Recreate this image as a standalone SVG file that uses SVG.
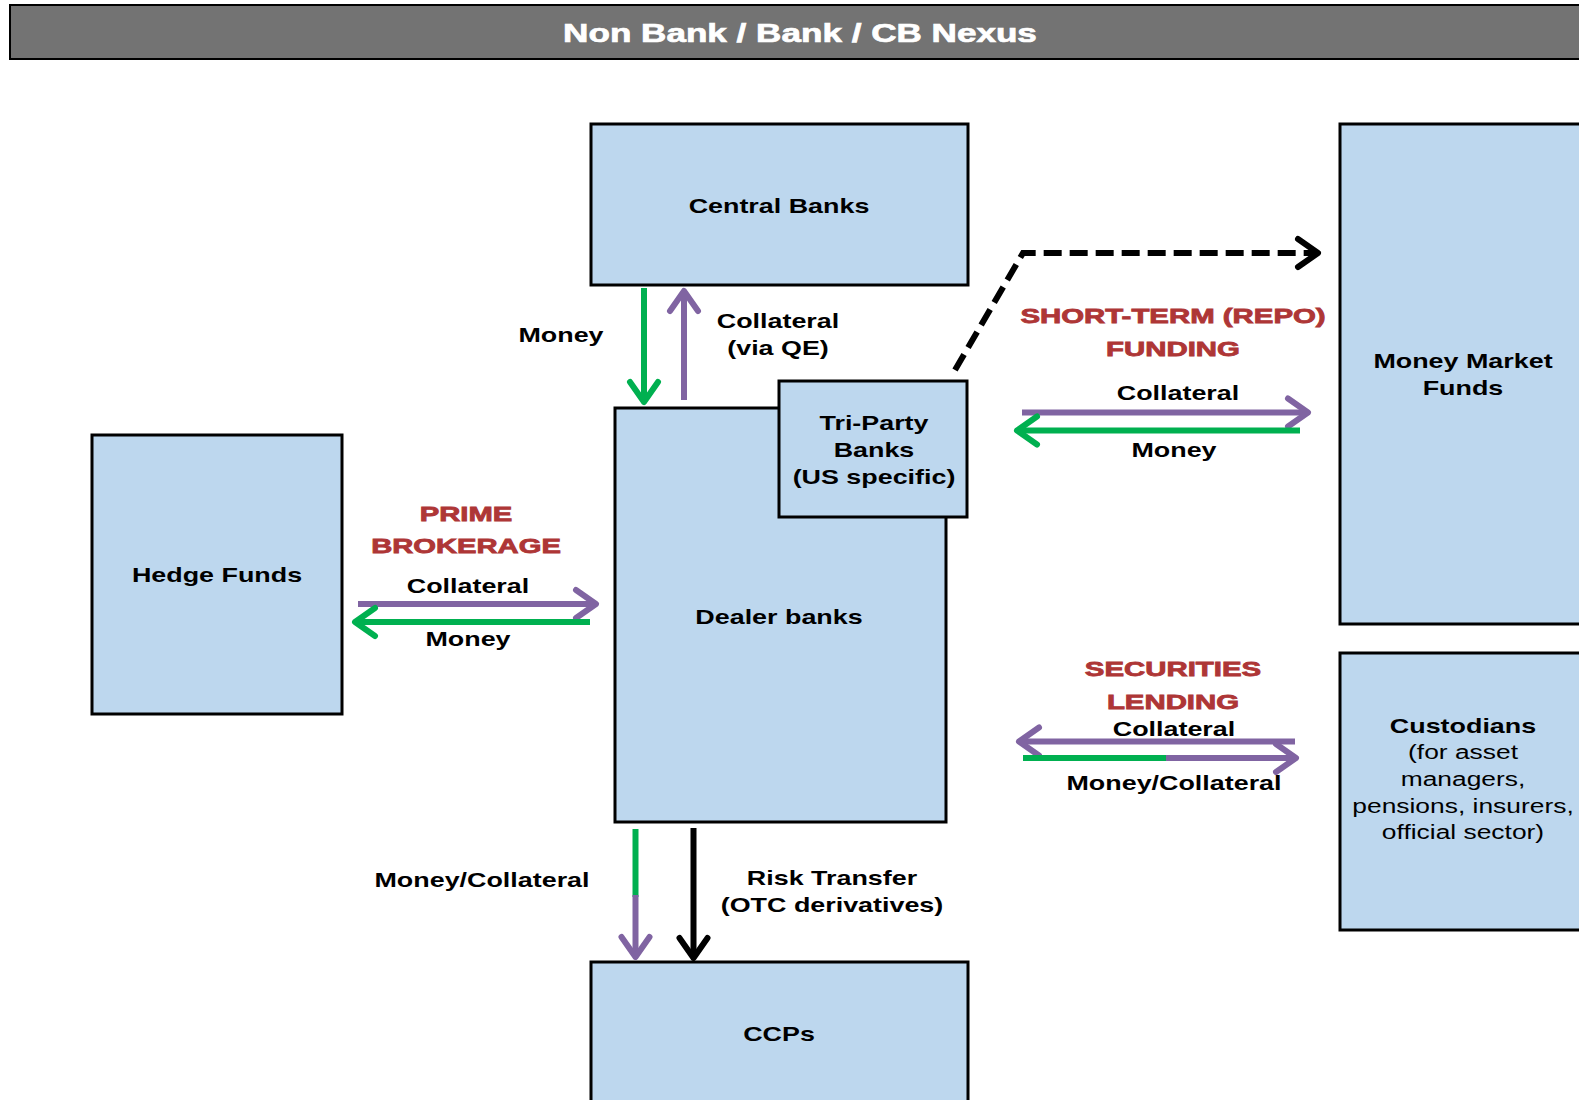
<svg xmlns="http://www.w3.org/2000/svg" width="1579" height="1100" viewBox="0 0 1579 1100">
<style>
.box{fill:#BDD7EE;stroke:#000;stroke-width:3}
.t{font-family:"Liberation Sans",Arial,sans-serif;font-weight:bold;font-size:21px;fill:#000;text-anchor:middle}
.r{font-family:"Liberation Sans",Arial,sans-serif;font-weight:bold;font-size:20px;fill:#AE3636;stroke:#AE3636;stroke-width:0.8;text-anchor:middle}
.n{font-family:"Liberation Sans",Arial,sans-serif;font-weight:normal;font-size:20px;fill:#000;text-anchor:middle}
.title{font-family:"Liberation Sans",Arial,sans-serif;font-weight:bold;font-size:26px;fill:#fff;stroke:#fff;stroke-width:0.7;text-anchor:middle}
.p{fill:none;stroke:#8064A2;stroke-width:6}
.g{fill:none;stroke:#00B050;stroke-width:6}
.k{fill:none;stroke:#000;stroke-width:6}
</style>
<defs>
<marker id="mp" markerUnits="userSpaceOnUse" orient="auto" refX="0" refY="0" markerWidth="40" markerHeight="40" viewBox="-30 -20 40 40" overflow="visible"><path d="M-20,-14 L0,0 L-20,14" fill="none" stroke="#8064A2" stroke-width="6" stroke-linecap="round" stroke-linejoin="round"/></marker>
<marker id="mg" markerUnits="userSpaceOnUse" orient="auto" refX="0" refY="0" markerWidth="40" markerHeight="40" viewBox="-30 -20 40 40" overflow="visible"><path d="M-20,-14 L0,0 L-20,14" fill="none" stroke="#00B050" stroke-width="6" stroke-linecap="round" stroke-linejoin="round"/></marker>
<marker id="mk" markerUnits="userSpaceOnUse" orient="auto" refX="0" refY="0" markerWidth="40" markerHeight="40" viewBox="-30 -20 40 40" overflow="visible"><path d="M-20,-14 L0,0 L-20,14" fill="none" stroke="#000" stroke-width="6" stroke-linecap="round" stroke-linejoin="round"/></marker>
</defs>
<rect width="1579" height="1100" fill="#fff"/>
<g id="title">
<rect x="10" y="5" width="1575" height="54" fill="#737373" stroke="#000" stroke-width="2"/>
<text class="title" transform="translate(800,41.5) scale(1.35,1)">Non Bank / Bank / CB Nexus</text>
</g>
<g id="central-banks">
<rect class="box" x="591" y="124" width="377" height="161"/>
<text class="t" transform="translate(779,213) scale(1.28,1)">Central Banks</text>
</g>
<g id="dealer-banks">
<rect class="box" x="615" y="408" width="331" height="414"/>
<text class="t" transform="translate(779,624) scale(1.28,1)">Dealer banks</text>
</g>
<g id="tri-party-banks">
<rect class="box" x="779" y="381" width="188" height="136"/>
<text class="t" transform="translate(874,430) scale(1.28,1)">Tri-Party</text>
<text class="t" transform="translate(874,457) scale(1.28,1)">Banks</text>
<text class="t" transform="translate(874,484) scale(1.28,1)">(US specific)</text>
</g>
<g id="hedge-funds">
<rect class="box" x="92" y="435" width="250" height="279"/>
<text class="t" transform="translate(217,582) scale(1.28,1)">Hedge Funds</text>
</g>
<g id="money-market-funds">
<rect class="box" x="1340" y="124" width="300" height="500"/>
<text class="t" transform="translate(1463,368) scale(1.28,1)">Money Market</text>
<text class="t" transform="translate(1463,395) scale(1.28,1)">Funds</text>
</g>
<g id="custodians">
<rect class="box" x="1340" y="653" width="300" height="277"/>
<text class="t" transform="translate(1463,732.5) scale(1.28,1)">Custodians</text>
<text class="n" transform="translate(1463,758.5) scale(1.32,1)">(for asset</text>
<text class="n" transform="translate(1463,786) scale(1.32,1)">managers,</text>
<text class="n" transform="translate(1463,813) scale(1.32,1)">pensions, insurers,</text>
<text class="n" transform="translate(1463,839) scale(1.32,1)">official sector)</text>
</g>
<g id="ccps">
<rect class="box" x="591" y="962" width="377" height="200"/>
<text class="t" transform="translate(779,1040.5) scale(1.28,1)">CCPs</text>
</g>
<g id="connectors">
<line class="g" x1="644" y1="288" x2="644" y2="402" marker-end="url(#mg)"/>
<line class="p" x1="684" y1="400" x2="684" y2="291" marker-end="url(#mp)"/>
<line class="p" x1="358" y1="604" x2="596" y2="604" marker-end="url(#mp)"/>
<line class="g" x1="590" y1="622" x2="355" y2="622" marker-end="url(#mg)"/>
<polyline class="k" points="955,370 1023,253 1318,253" stroke-dasharray="18,8" marker-end="url(#mk)"/>
<line class="p" x1="1022" y1="412.5" x2="1308" y2="412.5" marker-end="url(#mp)"/>
<line class="g" x1="1300" y1="430.5" x2="1017" y2="430.5" marker-end="url(#mg)"/>
<line class="p" x1="1295" y1="741.5" x2="1019" y2="741.5" marker-end="url(#mp)"/>
<line class="g" x1="1023" y1="758" x2="1169" y2="758"/>
<line class="p" x1="1166" y1="758" x2="1296" y2="758" marker-end="url(#mp)"/>
<line class="g" x1="635.5" y1="829" x2="635.5" y2="897"/>
<line class="p" x1="635.5" y1="895" x2="635.5" y2="957" marker-end="url(#mp)"/>
<line class="k" x1="693.5" y1="828" x2="693.5" y2="958" marker-end="url(#mk)"/>
<text class="t" transform="translate(561,342) scale(1.28,1)">Money</text>
<text class="t" transform="translate(778,328) scale(1.28,1)">Collateral</text>
<text class="t" transform="translate(778,355) scale(1.28,1)">(via QE)</text>
<text class="r" transform="translate(466,521) scale(1.46,1)">PRIME</text>
<text class="r" transform="translate(466,553) scale(1.46,1)">BROKERAGE</text>
<text class="t" transform="translate(468,593) scale(1.28,1)">Collateral</text>
<text class="t" transform="translate(468,646) scale(1.28,1)">Money</text>
<text class="r" transform="translate(1173,322.5) scale(1.47,1)">SHORT-TERM (REPO)</text>
<text class="r" transform="translate(1173,355.5) scale(1.47,1)">FUNDING</text>
<text class="t" transform="translate(1178,400) scale(1.28,1)">Collateral</text>
<text class="t" transform="translate(1174,456.5) scale(1.28,1)">Money</text>
<text class="r" transform="translate(1173,676) scale(1.47,1)">SECURITIES</text>
<text class="r" transform="translate(1173,709) scale(1.47,1)">LENDING</text>
<text class="t" transform="translate(1174,735.5) scale(1.28,1)">Collateral</text>
<text class="t" transform="translate(1174,790) scale(1.28,1)">Money/Collateral</text>
<text class="t" transform="translate(482,886.5) scale(1.28,1)">Money/Collateral</text>
<text class="t" transform="translate(832,884.5) scale(1.28,1)">Risk Transfer</text>
<text class="t" transform="translate(832,911.5) scale(1.28,1)">(OTC derivatives)</text>
</g>
</svg>
